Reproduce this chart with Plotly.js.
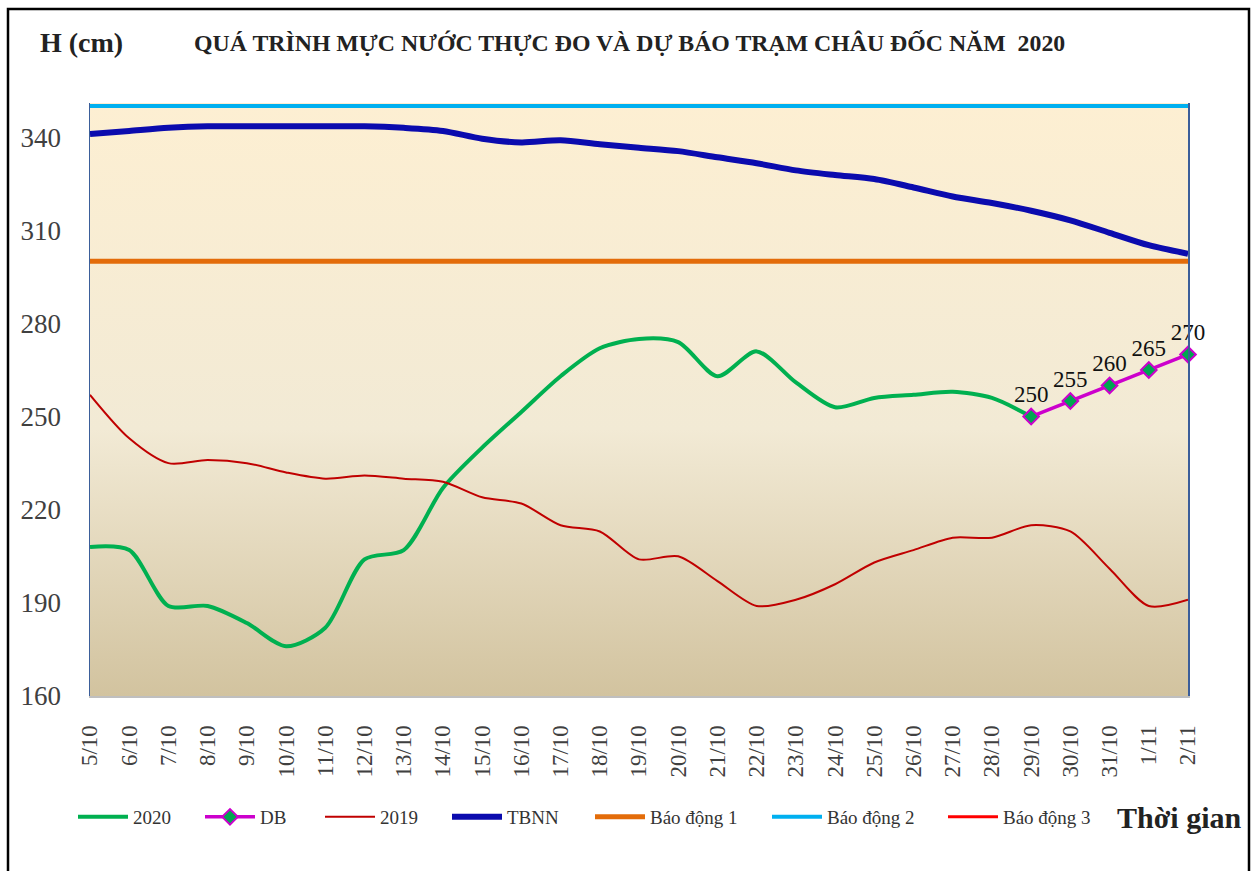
<!DOCTYPE html>
<html>
<head>
<meta charset="utf-8">
<script src="https://cdn.plot.ly/plotly-3.0.1.min.js"></script>
<style>html,body{margin:0;padding:0;background:#fff;}#chart{width:1258px;height:871px;}</style>
</head>
<body>
<div id="chart"></div>
<script>
// ---- data ----
const dates = ['5/10','6/10','7/10','8/10','9/10','10/10','11/10','12/10','13/10','14/10','15/10','16/10','17/10','18/10','19/10','20/10','21/10','22/10','23/10','24/10','25/10','26/10','27/10','28/10','29/10','30/10','31/10','1/11','2/11'];
const dates2020 = dates.slice(0, 25);
const h2020 = [208,207,189,189,183.5,176,182,204,207,227,240,251.5,263,272,275,274,263,271,261,253,256,257,258,256,250];
const datesDB = dates.slice(24);
const hDB = [250,255,260,265,270];
const h2019 = [257,243,235,236,235,232,230,231,230,229,224,222,215,213,204,205,197,189,191,196,203,207,211,211,215,213,201,189,191];
const hTBNN = [341,342,343,343.5,343.5,343.5,343.5,343.5,343,342,339.5,338.3,339,337.7,336.6,335.5,333.5,331.6,329.3,327.8,326.5,323.8,320.9,318.8,316.3,313.2,309.2,305.2,302.4];
const BD1 = 300, BD2 = 350, BD3 = 400;
const yTicks = [160,190,220,250,280,310,340];

const FONT = '"Liberation Serif", "Times New Roman", "DejaVu Serif", serif';
const alertX = [dates[0], dates[dates.length-1]];

const traces = [
  {x: dates2020, y: h2020, name: '2020', type: 'scatter', mode: 'lines',
   line: {color: '#00B050', width: 4, shape: 'spline', smoothing: 0.8}, legend: 'legend'},
  {x: datesDB, y: hDB, name: 'DB', type: 'scatter', mode: 'lines+markers+text',
   line: {color: '#CC00CC', width: 3.5},
   marker: {symbol: 'diamond', size: 12, color: '#00A651', line: {color: '#CC00CC', width: 2}},
   text: hDB.map(String), textposition: 'top center',
   textfont: {family: FONT, size: 23, color: '#111'}, cliponaxis: false, legend: 'legend2'},
  {x: dates, y: h2019, name: '2019', type: 'scatter', mode: 'lines',
   line: {color: '#C00000', width: 2, shape: 'spline', smoothing: 0.8}, legend: 'legend3'},
  {x: dates, y: hTBNN, name: 'TBNN', type: 'scatter', mode: 'lines',
   line: {color: '#0B0BAE', width: 6, shape: 'spline', smoothing: 0.8}, legend: 'legend4'},
  {x: alertX, y: [BD1, BD1], name: 'Báo động 1', type: 'scatter', mode: 'lines',
   line: {color: '#E36C0A', width: 5}, legend: 'legend5'},
  {x: alertX, y: [BD2, BD2], name: 'Báo động 2', type: 'scatter', mode: 'lines',
   line: {color: '#00B0F0', width: 4}, legend: 'legend6'},
  {x: alertX, y: [BD3, BD3], name: 'Báo động 3', type: 'scatter', mode: 'lines',
   line: {color: '#FF0000', width: 3}, legend: 'legend7'}
];

// plot area in px: left 90, right 1188, top 103, bottom 696
const L = 90, R = 1188, T = 103, B = 696;
const px = v => (v - L) / (R - L);
const py = v => (B - v) / (B - T);

const legendFont = {family: FONT, size: 19, color: '#333'};
function lg(lineStartPx) {
  return {x: px(lineStartPx - 5), xanchor: 'left', y: py(817), yanchor: 'middle',
          orientation: 'h', bgcolor: 'rgba(0,0,0,0)', borderwidth: 0,
          font: legendFont, itemwidth: 50};
}

const svgBg = '<svg xmlns="http://www.w3.org/2000/svg" width="100" height="100" preserveAspectRatio="none">' +
  '<defs><linearGradient id="g" x1="0" y1="0" x2="0" y2="1">' +
  '<stop offset="0" stop-color="#FDEFD2"/><stop offset="0.55" stop-color="#F2EAD5"/><stop offset="1" stop-color="#D2C39F"/>' +
  '</linearGradient></defs><rect width="100" height="100" fill="url(#g)"/></svg>';

const layout = {
  width: 1258, height: 871,
  margin: {l: L, r: 1258 - R, t: T, b: 871 - B},
  paper_bgcolor: '#FFFFFF',
  plot_bgcolor: 'rgba(0,0,0,0)',
  font: {family: FONT, color: '#404040'},
  showlegend: true,
  xaxis: {type: 'category', categoryorder: 'array', categoryarray: dates,
          range: [0, dates.length - 1], showgrid: false, zeroline: false,
          showline: true, linecolor: '#BFBFBF', linewidth: 2,
          tickangle: -90, tickfont: {family: FONT, size: 23, color: '#404040'},
          ticklabelstandoff: 18, ticks: ''},
  yaxis: {range: [160, 351], tickmode: 'array', tickvals: yTicks, ticktext: yTicks.map(String),
          showgrid: false, zeroline: false, showline: true, mirror: true,
          linecolor: '#3B5E9A', linewidth: 1.5,
          tickfont: {family: FONT, size: 27, color: '#404040'}, ticklabelstandoff: 22, ticks: ''},
  legend: lg(78), legend2: lg(205), legend3: lg(325), legend4: lg(452),
  legend5: lg(595), legend6: lg(772), legend7: lg(948),
  images: [{source: 'data:image/svg+xml;charset=utf-8,' + encodeURIComponent(svgBg),
            xref: 'paper', yref: 'paper', x: 0, y: 1, sizex: 1, sizey: 1,
            sizing: 'stretch', xanchor: 'left', yanchor: 'top', layer: 'below'}],
  shapes: [{type: 'rect', xref: 'paper', yref: 'paper',
            x0: px(8), x1: px(1249), y0: py(885), y1: py(9),
            line: {color: '#000', width: 2.5}, fillcolor: 'rgba(0,0,0,0)', layer: 'above'}],
  annotations: [
    {text: '<b>H (cm)</b>', xref: 'paper', yref: 'paper', x: px(38), y: py(42),
     xanchor: 'left', yanchor: 'middle', showarrow: false,
     font: {family: FONT, size: 28, color: '#222'}},
    {text: '<b>QUÁ TRÌNH MỰC NƯỚC THỰC ĐO VÀ DỰ BÁO TRẠM CHÂU ĐỐC NĂM  2020</b>', xref: 'paper', yref: 'paper',
     x: px(192), y: py(43), xanchor: 'left', yanchor: 'middle', showarrow: false,
     font: {family: FONT, size: 23.8, color: '#222'}},
    {text: '<b>Thời gian</b>', xref: 'paper', yref: 'paper', x: px(1115), y: py(817),
     xanchor: 'left', yanchor: 'middle', showarrow: false,
     font: {family: FONT, size: 30, color: '#222'}}
  ]
};

Plotly.newPlot('chart', traces, layout, {displayModeBar: false, staticPlot: true});
</script>
</body>
</html>
